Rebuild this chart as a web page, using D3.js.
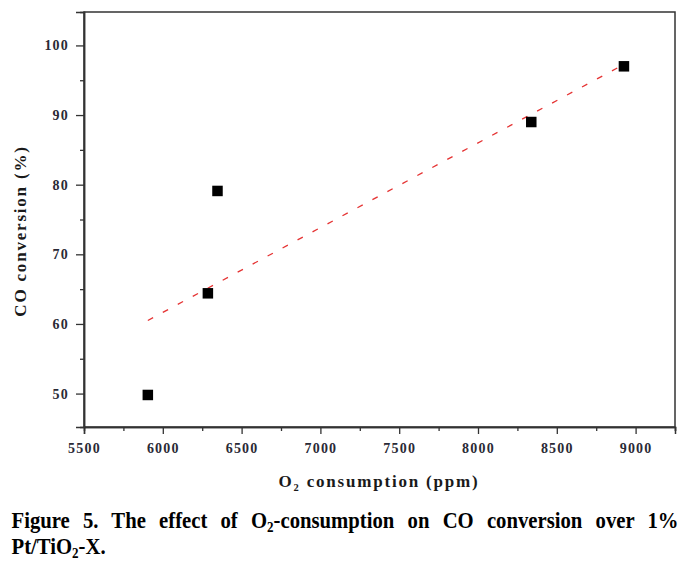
<!DOCTYPE html>
<html><head><meta charset="utf-8">
<script src="https://cdn.jsdelivr.net/npm/d3@7"></script>
<style>
html,body{margin:0;padding:0;background:#fff;}
svg{display:block;}
</style></head>
<body>
<svg id="chart" width="698" height="567"></svg>
<script>
// ---- data ----
const o2Consumption = [5905, 6286, 6347, 8338, 8926];
const coConversion  = [49.8, 64.4, 79.1, 89.0, 97.0];
const fitX = [5905, 8920];
const fitY = [60.5, 97.2];
const xMajorTicks = [5500, 6000, 6500, 7000, 7500, 8000, 8500, 9000];
const xMinorTicks = [5750, 6250, 6750, 7250, 7750, 8250, 8750, 9250];
const yMajorTicks = [50, 60, 70, 80, 90, 100];
const yMinorTicks = [55, 65, 75, 85, 95];
const xTitle = ["O", "2", " consumption (ppm)"];
const yTitle = "CO conversion (%)";
const captionLine1 = ["Figure 5. The effect of O", "2", "-consumption on CO conversion over 1%"];
const captionLine2 = ["Pt/TiO", "2", "-X."];

// ---- layout ----
const L = 84, T = 12, R = 675, B = 427;
const svg = d3.select("#chart");
svg.append("rect").attr("width", 698).attr("height", 567).attr("fill", "#fff");

const x = d3.scaleLinear().domain([5500, 9250]).range([L, R]);
const y = d3.scaleLinear().domain([45.2, 104.8]).range([B, T]);

const tickFont = "'Liberation Serif', 'Times New Roman', serif";
const axisColor = "#333";

// frame
svg.append("rect").attr("x", L).attr("y", T).attr("width", R - L).attr("height", B - T)
  .attr("fill", "none").attr("stroke", axisColor).attr("stroke-width", 1.5);

// x axis
const gx = svg.append("g").attr("transform", `translate(0,${B})`)
  .call(d3.axisBottom(x).tickValues(xMajorTicks).tickSize(7).tickPadding(9).tickFormat(d3.format("d")));
const gxm = svg.append("g").attr("transform", `translate(0,${B})`)
  .call(d3.axisBottom(x).tickValues(xMinorTicks).tickSize(4).tickFormat(""));
// y axis
const gy = svg.append("g").attr("transform", `translate(${L},0)`)
  .call(d3.axisLeft(y).tickValues(yMajorTicks).tickSize(8).tickPadding(7).tickFormat(d3.format("d")));
const gym = svg.append("g").attr("transform", `translate(${L},0)`)
  .call(d3.axisLeft(y).tickValues(yMinorTicks).tickSize(4).tickFormat(""));

[gx, gxm, gy, gym].forEach(g => {
  g.select(".domain").attr("stroke", axisColor).attr("stroke-width", 1.5);
  g.selectAll(".tick line").attr("stroke", axisColor).attr("stroke-width", 1.3);
  g.selectAll(".tick text").attr("font-family", tickFont).attr("font-weight", "bold")
    .attr("font-size", 14).attr("fill", "#2a2a36").attr("letter-spacing", "1.2px");
});

// fit line
svg.append("line")
  .attr("x1", x(fitX[0])).attr("y1", y(fitY[0]))
  .attr("x2", x(fitX[1])).attr("y2", y(fitY[1]))
  .attr("stroke", "#e53333").attr("stroke-width", 1.3)
  .attr("stroke-dasharray", "6,11");

// points
const s = 10.5;
svg.selectAll("rect.pt").data(o2Consumption).enter().append("rect")
  .attr("class", "pt")
  .attr("x", (d) => x(d) - s / 2)
  .attr("y", (d, i) => y(coConversion[i]) - s / 2)
  .attr("width", s).attr("height", s).attr("fill", "#000");

// axis titles
const titleFont = "'Liberation Serif', 'Times New Roman', serif";
const xt = svg.append("text").attr("x", 379).attr("y", 487).attr("text-anchor", "middle")
  .attr("font-family", titleFont).attr("font-weight", "bold").attr("font-size", 17)
  .attr("letter-spacing", "1.8px").attr("fill", "#1a1a1a");
xt.append("tspan").text(xTitle[0]);
xt.append("tspan").attr("font-size", 10.5).attr("dy", 4).text(xTitle[1]);
xt.append("tspan").attr("dy", -4).text(xTitle[2]);

svg.append("text").attr("transform", "translate(26,231) rotate(-90)").attr("text-anchor", "middle")
  .attr("font-family", titleFont).attr("font-weight", "bold").attr("font-size", 17)
  .attr("letter-spacing", "1.8px").attr("fill", "#1a1a1a").text(yTitle);

// caption
const capFont = "'Liberation Serif', 'Times New Roman', serif";
const sx = 0.9;
function captionLine(parts, baseY, targetWidth) {
  const g = svg.append("g").attr("transform", `translate(11.5,${baseY}) scale(${sx},1)`);
  const t = g.append("text").attr("x", 0).attr("y", 0)
    .attr("font-family", capFont).attr("font-weight", "bold").attr("font-size", 23).attr("fill", "#000");
  t.append("tspan").text(parts[0]);
  t.append("tspan").attr("font-size", 14.5).attr("dy", 4).text(parts[1]);
  t.append("tspan").attr("dy", -4).text(parts[2]);
  if (targetWidth) {
    const natural = t.node().getComputedTextLength();
    const spaces = (parts.join("").match(/ /g) || []).length;
    const extra = (targetWidth / sx - natural) / spaces;
    t.attr("word-spacing", extra + "px");
  }
}
captionLine(captionLine1, 528, 667);
captionLine(captionLine2, 554, null);
</script>
</body></html>
